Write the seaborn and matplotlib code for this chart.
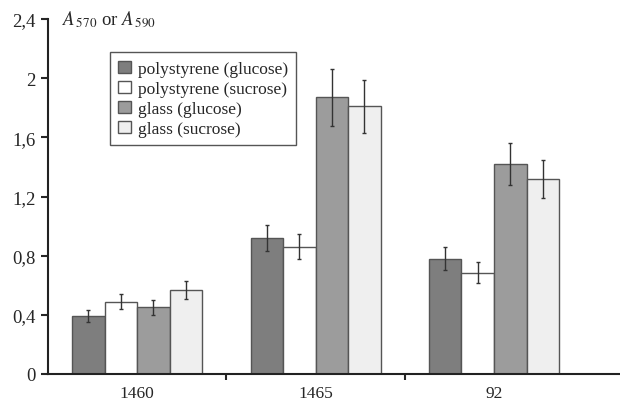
import matplotlib
matplotlib.use("Agg")
import matplotlib.pyplot as plt
import seaborn as sns
import pandas as pd
import numpy as np
from matplotlib.ticker import FixedLocator, FuncFormatter

strains = ["1460", "1465", "92"]
series = ["polystyrene (glucose)", "polystyrene (sucrose)", "glass (glucose)", "glass (sucrose)"]
poly_glucose = [0.39, 0.92, 0.78]
poly_sucrose = [0.49, 0.86, 0.685]
glass_glucose = [0.45, 1.87, 1.42]
glass_sucrose = [0.57, 1.81, 1.32]
err_poly_glucose = [0.04, 0.09, 0.08]
err_poly_sucrose = [0.05, 0.085, 0.07]
err_glass_glucose = [0.05, 0.19, 0.14]
err_glass_sucrose = [0.06, 0.18, 0.13]
yticks = [0, 0.4, 0.8, 1.2, 1.6, 2.0, 2.4]

values = [poly_glucose, poly_sucrose, glass_glucose, glass_sucrose]
errors = [err_poly_glucose, err_poly_sucrose, err_glass_glucose, err_glass_sucrose]
rows = []
for s, vals, errs in zip(series, values, errors):
    for st, v, e in zip(strains, vals, errs):
        rows.append({"strain": st, "series": s, "value": v, "err": e})
df = pd.DataFrame(rows)

sns.set_style("white")
plt.rcParams["font.family"] = ["Liberation Serif", "DejaVu Serif"]
plt.rcParams["mathtext.fontset"] = "stix"

colors = ["#7e7e7e", "#ffffff", "#9c9c9c", "#efefef"]

fig = plt.figure(figsize=(6.2, 4.02), dpi=100)
ax = fig.add_axes([48 / 620, 27 / 402, 1 - 48 / 620, (375 - 20) / 402])

sns.barplot(data=df, x="strain", y="value", hue="series", order=strains,
            hue_order=series, palette=colors, width=0.73, gap=0,
            edgecolor="#555555", linewidth=1.0, errorbar=None, ax=ax,
            saturation=1)

for container, errs in zip(ax.containers, errors):
    for patch, e in zip(container.patches, errs):
        xc = patch.get_x() + patch.get_width() / 2
        h = patch.get_height()
        ax.errorbar(xc, h, yerr=e, fmt="none", ecolor="#333333",
                    elinewidth=1.0, capsize=1.5, capthick=1.0)

ax.set_xlim(-0.5, (620 - 137) / 178.5)
ax.set_ylim(0, 2.4)
ax.set_yticks(yticks)
ax.yaxis.set_major_formatter(FuncFormatter(lambda v, p: (f"{v:.1f}".rstrip("0").rstrip(".")).replace(".", ",")))
ax.xaxis.set_minor_locator(FixedLocator([0.5, 1.5]))
ax.tick_params(axis="x", which="major", length=0, pad=8, labelsize=12.5)
ax.tick_params(axis="x", which="minor", length=4, width=1.5, direction="out", bottom=True)
ax.tick_params(axis="y", which="major", length=5, width=1.5, direction="out", left=True, labelsize=13.5, pad=4)
ax.set_xlabel("")
ax.set_ylabel("")
for side in ["top", "right"]:
    ax.spines[side].set_visible(False)
for side in ["left", "bottom"]:
    ax.spines[side].set_color("#222222")
    ax.spines[side].set_linewidth(1.5)

ax.text(0.025, 2.4, r"$A_{\,570}$ or $A_{\,590}$", transform=ax.get_yaxis_transform(),
        ha="left", va="center", fontsize=13.5)

handles, labels = ax.get_legend_handles_labels()
leg = ax.legend(handles, labels, loc="upper left", bbox_to_anchor=(0.108, 0.907),
                borderaxespad=0, frameon=True, fancybox=False, framealpha=1,
                edgecolor="#555555", fontsize=12.5, handlelength=0.7, handleheight=0.7,
                handletextpad=0.4, labelspacing=0.22, borderpad=0.5)
leg.get_frame().set_linewidth(1.0)

fig.savefig("out.png", dpi=100)
